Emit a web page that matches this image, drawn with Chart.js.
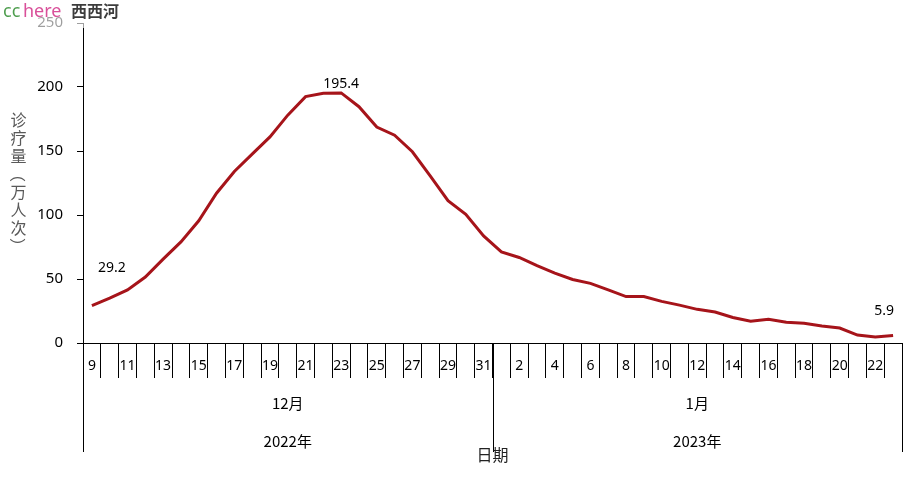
<!DOCTYPE html>
<html>
<head>
<meta charset="utf-8">
<script src="https://cdn.jsdelivr.net/npm/chart.js@4"></script>
<style>
    html, body { margin: 0; padding: 0; background: #fff; }
    #wrap { width: 912px; height: 481px; position: relative; }
</style>
</head>
<body>
<div id="wrap"><canvas id="chart" width="912" height="481"></canvas></div>
<script>
/* ============================================================
   DATA
============================================================ */
const days = [
    "9", "10", "11", "12", "13", "14", "15", "16", "17", "18", "19", "20",
    "21", "22", "23", "24", "25", "26", "27", "28", "29", "30", "31",
    "1", "2", "3", "4", "5", "6", "7", "8", "9", "10", "11", "12",
    "13", "14", "15", "16", "17", "18", "19", "20", "21", "22", "23"
];
const visits = [
    29.2, 35.0, 41.5, 51.5, 65.5, 79.0, 95.5, 117.0, 134.0, 147.5, 161.0, 178.0,
    192.5, 195.1, 195.4, 184.6, 168.7, 162.3, 149.4, 130.5, 111.2, 100.6, 83.6,
    71.2, 66.8, 60.4, 54.6, 49.6, 46.6, 41.5, 36.3, 36.3, 32.5, 29.6, 26.3,
    24.2, 19.9, 17.0, 18.6, 16.3, 15.4, 13.2, 11.7, 6.2, 4.6, 5.9
];
const monthLabels = ["12月", "1月"];
const yearLabels = ["2022年", "2023年"];
const groupStart = [0, 23];          // first category index of each month / year
const labelledPoints = [0, 14, 45];  // points carrying a value label
const yTicks = [0, 50, 100, 150, 200, 250];
const yTitle = ["诊", "疗", "量", "（", "万", "人", "次", "）"];
const xTitle = "日期";

const FONT = '"Noto Sans", "Noto Sans CJK SC", sans-serif';
const CJK = '"Noto Sans CJK SC", "Noto Sans", sans-serif';

/* ============================================================
   PLUGIN: multi-level axis labels, titles, value labels
============================================================ */
const decorPlugin = {
    id: "decor",
    afterDraw(chart) {
        const ctx = chart.ctx;
        const xs = chart.scales.x;
        const area = chart.chartArea;
        const half = (xs.getPixelForValue(1) - xs.getPixelForValue(0)) / 2;
        const edge = i => (i >= days.length ? area.right : xs.getPixelForValue(i) - half);

        ctx.save();

        // day tick labels (every other day)
        ctx.fillStyle = "#000";
        ctx.font = "14px " + FONT;
        ctx.textAlign = "center";
        ctx.textBaseline = "middle";
        days.forEach((d, i) => {
            if (i % 2 === 0) ctx.fillText(d, xs.getPixelForValue(i), 366);
        });

        // group separators
        ctx.strokeStyle = "#000";
        ctx.lineWidth = 1;
        const seps = [0, ...groupStart.slice(1), days.length];
        seps.forEach(i => {
            const x = Math.round(edge(i)) + 0.5;
            ctx.beginPath();
            ctx.moveTo(x, area.bottom);
            ctx.lineTo(x, 452);
            ctx.stroke();
        });

        // month and year labels
        ctx.font = "15px " + CJK;
        groupStart.forEach((s, g) => {
            const e = g + 1 < groupStart.length ? groupStart[g + 1] : days.length;
            const cx = (edge(s) + edge(e)) / 2;
            ctx.fillText(monthLabels[g], cx, 403);
            ctx.fillText(yearLabels[g], cx, 441);
        });

        // x axis title
        ctx.font = "16px " + CJK;
        ctx.fillStyle = "#222";
        ctx.fillText(xTitle, (area.left + area.right) / 2, 455);

        // y axis title (stacked characters, brackets turned upright)
        ctx.fillStyle = "#595959";
        ctx.font = "16px " + CJK;
        yTitle.forEach((c, k) => {
            const y = 120 + k * 18;
            if (c === "（" || c === "）") {
                ctx.save();
                ctx.translate(18.5, y);
                ctx.rotate(Math.PI / 2);
                ctx.fillText(c, 0, 0);
                ctx.restore();
            } else {
                ctx.fillText(c, 18.5, y);
            }
        });

        // value labels
        const pts = chart.getDatasetMeta(0).data;
        const shift = [[20, -38], [0, -9], [-9, -24]];
        ctx.fillStyle = "#000";
        ctx.font = "14px " + FONT;
        labelledPoints.forEach((i, k) => {
            const p = pts[i];
            ctx.fillText(visits[i].toFixed(1), p.x + shift[k][0], p.y + shift[k][1]);
        });

        // watermark
        ctx.fillStyle = "rgba(255,255,255,0.62)";
        ctx.fillRect(0, 0, 122, 28);
        ctx.textAlign = "left";
        ctx.textBaseline = "alphabetic";
        ctx.font = "18px " + FONT;
        ctx.fillStyle = "#4f9e4f";
        ctx.fillText("cc", 3, 17);
        ctx.fillStyle = "#d9509a";
        ctx.fillText("here", 23, 17);
        ctx.font = "bold 16px " + CJK;
        ctx.fillStyle = "#3c3c3c";
        ctx.fillText("西西河", 71, 17);

        ctx.restore();
    }
};

/* ============================================================
   CHART
============================================================ */
const chart = new Chart(document.getElementById("chart").getContext("2d"), {
    type: "line",
    data: {
        labels: days,
        datasets: [{
            data: visits,
            borderColor: "#A6141A",
            borderWidth: 3,
            pointRadius: 0,
            tension: 0,
            fill: false
        }]
    },
    options: {
        responsive: false,
        animation: false,
        layout: { padding: { left: 0, top: 18, right: 10, bottom: 0 } },
        plugins: {
            legend: { display: false },
            tooltip: { enabled: false }
        },
        scales: {
            x: {
                type: "category",
                offset: true,
                grid: {
                    offset: true,
                    drawOnChartArea: false,
                    tickLength: 35,
                    color: "#000"
                },
                border: { color: "#000" },
                ticks: { display: false, autoSkip: false },
                afterFit: s => { s.height = 138; }
            },
            y: {
                min: 0,
                max: 250,
                afterBuildTicks: s => { s.ticks = yTicks.map(v => ({ value: v })); },
                grid: {
                    drawOnChartArea: false,
                    tickLength: 6,
                    color: "#000"
                },
                border: { color: "#000" },
                ticks: {
                    color: "#000",
                    padding: 14,
                    font: { family: FONT, size: 15 }
                },
                afterFit: s => { s.width = 83; }
            }
        }
    },
    plugins: [decorPlugin]
});
</script>
</body>
</html>
